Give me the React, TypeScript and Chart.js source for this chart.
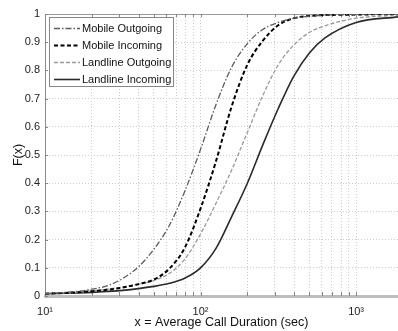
import React, { useEffect, useRef } from "react";
import { Chart, registerables } from "chart.js";

Chart.register(...registerables);

// ---- data ----
const seriesLabels = ["Mobile Outgoing", "Mobile Incoming", "Landline Outgoing", "Landline Incoming"];

// call duration (sec) at which the curves were read
const durations = [10, 15.8, 20, 25, 31.6, 39.8, 50, 63, 79, 100, 126, 158, 200, 251, 316, 398, 501, 631, 1000, 1860];

const mobileOutgoing = [0.008, 0.016, 0.024, 0.036, 0.062, 0.103, 0.165, 0.25, 0.37, 0.52, 0.68, 0.81, 0.895, 0.945, 0.97, 0.985, 0.992, 0.996, 0.999, 1.0];
const mobileIncoming = [0.008, 0.013, 0.017, 0.022, 0.03, 0.042, 0.058, 0.097, 0.17, 0.31, 0.48, 0.67, 0.82, 0.905, 0.96, 0.985, 0.993, 0.996, 0.998, 1.0];
const landlineOutgoing = [0.008, 0.013, 0.018, 0.024, 0.032, 0.042, 0.055, 0.08, 0.13, 0.22, 0.33, 0.445, 0.58, 0.71, 0.82, 0.89, 0.935, 0.958, 0.985, 0.995];
const landlineIncoming = [0.008, 0.011, 0.013, 0.016, 0.02, 0.026, 0.034, 0.045, 0.063, 0.1, 0.17, 0.28, 0.4, 0.535, 0.665, 0.78, 0.862, 0.915, 0.97, 0.99];

const xTickValues = [10, 20, 30, 40, 50, 60, 70, 80, 90, 100, 200, 300, 400, 500, 600, 700, 800, 900, 1000];
const xMajorValues = [10, 100, 1000];
const xMajorLabels = ["10\u00b9", "10\u00b2", "10\u00b3"];
const yTickLabels = ["0", "0.1", "0.2", "0.3", "0.4", "0.5", "0.6", "0.7", "0.8", "0.9", "1"];

const xTitle = "x = Average Call Duration (sec)";
const yTitle = "F(x)";

// ---- styles ----
const lineColors = ["#5c5c5c", "#000000", "#9a9a9a", "#2a2a2a"];
const lineWidths = [1.3, 2, 1.3, 1.6];
const lineDashes = [[6, 2, 1.5, 2], [4, 2.5], [4, 2], []];

const FONT = '"Liberation Sans", Arial, Helvetica, sans-serif';

const pts = (xs: number[], ys: number[]) => xs.map((x, i) => ({ x, y: ys[i] }));

const boxPlugin = {
  id: "boxPlugin",
  beforeDatasetsDraw(chart: any) {
    const { ctx, chartArea: a } = chart;
    ctx.save();
    ctx.strokeStyle = "#999";
    ctx.lineWidth = 1;
    ctx.beginPath();
    ctx.moveTo(a.left, a.top + 0.5);
    ctx.lineTo(a.right, a.top + 0.5);
    ctx.stroke();
    // inward ticks
    const xs = chart.scales.x;
    ctx.strokeStyle = "#888";
    ctx.beginPath();
    xTickValues.forEach((v) => {
      const px = Math.round(xs.getPixelForValue(v)) + 0.5;
      ctx.moveTo(px, a.top);
      ctx.lineTo(px, a.top + 3);
      ctx.moveTo(px, a.bottom);
      ctx.lineTo(px, a.bottom - 4);
    });
    const ys = chart.scales.y;
    yTickLabels.forEach((_, i) => {
      const py = Math.round(ys.getPixelForValue(i / 10)) + 0.5;
      ctx.moveTo(a.left, py);
      ctx.lineTo(a.left + 3, py);
    });
    ctx.stroke();
    ctx.restore();
  },
  afterDatasetsDraw(chart: any) {
    const { ctx, chartArea: a } = chart;
    const x0 = a.left + 4;
    const y0 = a.top + 3;
    const w = 124;
    const h = 69;
    ctx.save();
    ctx.fillStyle = "#fff";
    ctx.fillRect(x0, y0, w, h);
    ctx.strokeStyle = "#888";
    ctx.lineWidth = 1;
    ctx.strokeRect(x0 + 0.5, y0 + 0.5, w, h);
    chart.data.datasets.forEach((ds: any, i: number) => {
      const y = y0 + 11.5 + i * 17;
      ctx.beginPath();
      ctx.setLineDash(ds.borderDash || []);
      ctx.strokeStyle = ds.borderColor;
      ctx.lineWidth = ds.borderWidth;
      ctx.moveTo(x0 + 5, y);
      ctx.lineTo(x0 + 31, y);
      ctx.stroke();
      ctx.setLineDash([]);
      ctx.fillStyle = "#111";
      ctx.font = "11px " + FONT;
      ctx.textBaseline = "middle";
      ctx.textAlign = "left";
      ctx.fillText(ds.label, x0 + 33, y + 0.5);
    });
    ctx.restore();
  },
};

export default function App() {
  const ref = useRef<HTMLCanvasElement | null>(null);
  useEffect(() => {
    if (!ref.current) return;
    const series = [
      pts(durations, mobileOutgoing),
      pts(durations, mobileIncoming),
      pts(durations, landlineOutgoing),
      pts(durations, landlineIncoming),
    ];
    const chart = new Chart(ref.current, {
      type: "line",
      data: {
        datasets: series.map((d, i) => ({
          label: seriesLabels[i],
          data: d,
          borderColor: lineColors[i],
          borderWidth: lineWidths[i],
          borderDash: lineDashes[i],
          pointRadius: 0,
          fill: false,
          cubicInterpolationMode: "monotone",
        })),
      },
      options: {
        responsive: false,
        animation: false,
        events: [],
        layout: { padding: { top: 14, right: 0, left: 0, bottom: 0 } },
        plugins: { legend: { display: false }, tooltip: { enabled: false } },
        scales: {
          x: {
            type: "logarithmic",
            min: 10,
            max: 1860,
            afterBuildTicks: (s: any) => {
              s.ticks = xTickValues.map((v) => ({ value: v }));
            },
            afterFit: (s: any) => {
              s.height = 35;
            },
            ticks: {
              autoSkip: false,
              maxRotation: 0,
              padding: 9,
              color: "#222",
              font: { family: FONT, size: 11 },
              callback: (v: any) => {
                const k = xMajorValues.indexOf(Number(v));
                return k >= 0 ? xMajorLabels[k] : "";
              },
            },
            grid: { color: "#cccccc", lineWidth: 1, drawTicks: false },
            border: { display: true, color: "#bdbdbd", width: 3, dash: [1, 2] },
            title: {
              display: true,
              text: xTitle,
              color: "#111",
              font: { family: FONT, size: 12.5 },
              padding: { top: 0, bottom: 1 },
            },
          },
          y: {
            type: "linear",
            min: 0,
            max: 1,
            afterFit: (s: any) => {
              s.width = 45;
            },
            ticks: {
              stepSize: 0.1,
              padding: 5,
              color: "#222",
              font: { family: FONT, size: 11 },
              callback: (_v: any, i: number) => yTickLabels[i],
            },
            grid: { color: "#cccccc", lineWidth: 1, drawTicks: false },
            border: { display: true, color: "#8a8a8a", width: 1, dash: [1, 2] },
            title: {
              display: true,
              text: yTitle,
              color: "#111",
              font: { family: FONT, size: 12.5 },
              padding: { top: 11, bottom: 0 },
            },
          },
        },
      },
      plugins: [boxPlugin],
    } as any);
    return () => chart.destroy();
  }, []);
  return (
    <div style={{ position: "absolute", left: 0, top: 0, width: 398, height: 331, background: "#fff" }}>
      <canvas ref={ref} width={398} height={331} style={{ display: "block" }} />
    </div>
  );
}
